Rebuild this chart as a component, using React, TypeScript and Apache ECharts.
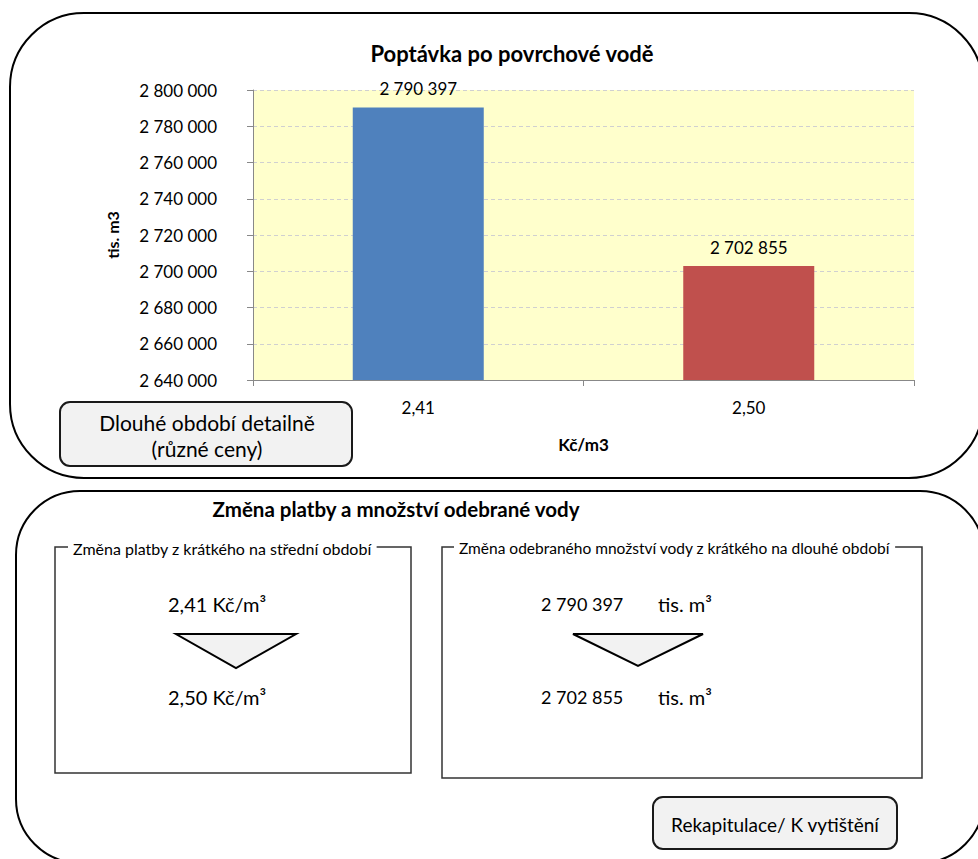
import React, { useEffect, useRef } from "react";
import * as echarts from "echarts";

// Price levels (Kč/m3) and the demanded volume of surface water (tis. m3)
const categories = ["2,41", "2,50"];
const prices = [2.41, 2.5];
const volumes = [2790397, 2702855];
const barColors = ["#4F81BD", "#C0504D"];

const yMin = 2640000;
const yMax = 2800000;
const yStep = 20000;

const chartTitle = "Poptávka po povrchové vodě";
const yAxisName = "tis. m3";
const xAxisName = "Kč/m3";
const sectionTitle = "Změna platby a množství odebrané vody";
const priceBoxTitle = "Změna platby z krátkého na střední období";
const volumeBoxTitle = "Změna odebraného množství vody z krátkého na dlouhé období";
const detailButton = "Dlouhé období detailně\n(různé ceny)";
const printButton = "Rekapitulace/ K vytištění";

const FONT = "Lato, 'Noto Sans', sans-serif";

const spaced = (n: number) => String(n).replace(/\B(?=(\d{3})+(?!\d))/g, " ");
const price = (p: number) => p.toFixed(2).replace(".", ",");

export default function App() {
  const ref = useRef<HTMLDivElement>(null);

  useEffect(() => {
    if (!ref.current) return;
    const chart = echarts.init(ref.current, null, { renderer: "svg" });

    const text = (x: number, y: number, t: string, size: number, extra: any = {}) => ({
      type: "text",
      x,
      y,
      style: {
        text: t,
        fill: "#000",
        font: `${extra.bold ? "bold " : ""}${size}px ${FONT}`,
        align: extra.align || "center",
        verticalAlign: "middle",
        lineHeight: extra.lineHeight,
        backgroundColor: extra.bg,
        padding: extra.padding,
      },
      z: 10,
    });

    const triangle = (x1: number, x2: number, yTop: number, yTip: number) => ({
      type: "polygon",
      shape: { points: [[x1, yTop], [x2, yTop], [(x1 + x2) / 2, yTip]] },
      style: { fill: "#F2F2F2", stroke: "#000", lineWidth: 2 },
      z: 5,
    });

    chart.setOption({
      animation: false,
      backgroundColor: "#fff",
      title: {
        text: chartTitle,
        left: 507,
        top: 37,
        textAlign: "center",
        textStyle: { fontFamily: FONT, fontWeight: "bold", fontSize: 22, color: "#000" },
      },
      grid: {
        left: 253,
        top: 90,
        width: 661,
        height: 290,
        show: true,
        backgroundColor: "#FFFFCC",
        borderWidth: 0,
      },
      xAxis: {
        type: "category",
        data: categories,
        name: xAxisName,
        nameLocation: "middle",
        nameGap: 56,
        nameTextStyle: { fontFamily: FONT, fontWeight: "bold", fontSize: 17, color: "#000" },
        axisLine: { lineStyle: { color: "#888", width: 1 } },
        axisTick: { show: true, length: 6, lineStyle: { color: "#888" } },
        axisLabel: { margin: 19, fontFamily: FONT, fontSize: 17, color: "#000" },
      },
      yAxis: {
        type: "value",
        min: yMin,
        max: yMax,
        interval: yStep,
        name: yAxisName,
        nameLocation: "middle",
        nameGap: 133,
        nameRotate: 90,
        nameTextStyle: { fontFamily: FONT, fontWeight: "bold", fontSize: 16, color: "#000" },
        axisLine: { show: true, lineStyle: { color: "#888", width: 1 } },
        axisTick: { show: true, length: 6, lineStyle: { color: "#888" } },
        axisLabel: {
          margin: 36,
          fontFamily: FONT,
          fontSize: 17,
          color: "#000",
          formatter: (v: number) => spaced(v),
        },
        splitLine: { lineStyle: { color: "#D0D0D0", type: [4, 3], width: 1 } },
      },
      series: [
        {
          type: "bar",
          barWidth: 131,
          data: volumes.map((v, i) => ({ value: v, itemStyle: { color: barColors[i] } })),
          label: {
            show: true,
            position: "top",
            distance: 10,
            fontFamily: FONT,
            fontSize: 17,
            color: "#000",
            formatter: (p: any) => spaced(p.value),
          },
        },
      ],
      graphic: [
        // outer panels
        {
          type: "rect",
          shape: { x: 10, y: 13, width: 973, height: 465, r: 74 },
          style: { fill: "none", stroke: "#000", lineWidth: 2 },
          z: 1,
        },
        {
          type: "rect",
          shape: { x: 16, y: 491, width: 968, height: 372, r: 64 },
          style: { fill: "none", stroke: "#000", lineWidth: 2 },
          z: 1,
        },
        // button: detailed long period
        {
          type: "rect",
          shape: { x: 60, y: 402, width: 292, height: 64, r: 10 },
          style: { fill: "#F2F2F2", stroke: "#1a1a1a", lineWidth: 2 },
          z: 5,
        },
        text(207, 435, detailButton, 21, { lineHeight: 26 }),
        // lower section title
        text(396, 509, sectionTitle, 20.5, { bold: true }),
        // price change box
        {
          type: "rect",
          shape: { x: 55, y: 547, width: 356, height: 226 },
          style: { fill: "none", stroke: "#333", lineWidth: 1.5 },
          z: 5,
        },
        text(68, 548, priceBoxTitle, 16, { align: "left", bg: "#fff", padding: [0, 5] }),
        text(168, 604, `${price(prices[0])} Kč/m³`, 20, { align: "left" }),
        triangle(176, 296, 634, 668),
        text(168, 697, `${price(prices[1])} Kč/m³`, 20, { align: "left" }),
        // volume change box
        {
          type: "rect",
          shape: { x: 442, y: 547, width: 480, height: 231 },
          style: { fill: "none", stroke: "#333", lineWidth: 1.5 },
          z: 5,
        },
        text(454, 548, volumeBoxTitle, 15.5, { align: "left", bg: "#fff", padding: [0, 5] }),
        text(541, 604, spaced(volumes[0]), 18, { align: "left" }),
        text(658, 604, "tis. m³", 20, { align: "left" }),
        triangle(573, 703, 634, 666),
        text(541, 697, spaced(volumes[1]), 18, { align: "left" }),
        text(658, 697, "tis. m³", 20, { align: "left" }),
        // button: summary / print
        {
          type: "rect",
          shape: { x: 653, y: 797, width: 244, height: 52, r: 10 },
          style: { fill: "#F2F2F2", stroke: "#1a1a1a", lineWidth: 2 },
          z: 5,
        },
        text(775, 824, printButton, 19),
      ],
    });

    return () => chart.dispose();
  }, []);

  return (
    <div
      ref={ref}
      style={{ position: "fixed", left: 0, top: 0, width: 978, height: 859 }}
    />
  );
}
